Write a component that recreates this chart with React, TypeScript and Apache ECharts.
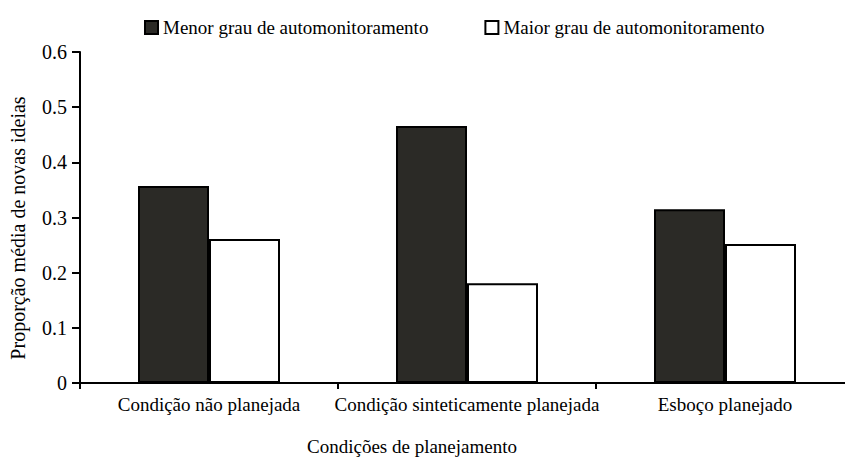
import React, { useEffect, useRef } from "react";
import * as echarts from "echarts";

const categories = [
  "Condição não planejada",
  "Condição sinteticamente planejada",
  "Esboço planejado",
];
const seriesNames = ["Menor grau de automonitoramento", "Maior grau de automonitoramento"];
const menorValues = [0.357, 0.466, 0.315];
const maiorValues = [0.261, 0.181, 0.252];
const yTicks = [0, 0.1, 0.2, 0.3, 0.4, 0.5, 0.6];
const xAxisTitle = "Condições de planejamento";
const yAxisTitle = "Proporção média de novas ideias";

const FONT = "Liberation Serif";

export default function App() {
  const ref = useRef<HTMLDivElement>(null);
  useEffect(() => {
    if (!ref.current) return;
    const chart = echarts.init(ref.current, undefined, { renderer: "svg" });
    chart.setOption({
      animation: false,
      backgroundColor: "#ffffff",
      textStyle: { fontFamily: FONT, color: "#000" },
      legend: {
        left: 139,
        top: 13,
        icon: "rect",
        itemWidth: 13,
        itemHeight: 13,
        itemGap: 56,
        textStyle: { fontFamily: FONT, fontSize: 19, color: "#000" },
        data: seriesNames,
      },
      grid: { left: 80, width: 774, top: 52, bottom: 74, containLabel: false, outerBoundsMode: "none" },
      xAxis: {
        type: "category",
        data: categories,
        axisLine: { lineStyle: { color: "#000", width: 2 } },
        axisTick: { show: true, length: 6, lineStyle: { color: "#000", width: 2 } },
        axisLabel: {
          fontFamily: FONT,
          fontSize: 19,
          color: "#000",
          margin: 12,
          interval: 0,
          hideOverlap: false,
        },
      },
      yAxis: {
        type: "value",
        min: 0,
        max: yTicks[yTicks.length - 1],
        interval: 0.1,
        splitLine: { show: false },
        axisLine: { show: true, lineStyle: { color: "#000", width: 2 } },
        axisTick: { show: true, length: 8, lineStyle: { color: "#000", width: 2 } },
        axisLabel: {
          fontFamily: FONT,
          fontSize: 20,
          color: "#000",
          margin: 13,
          formatter: (v: number) => (v === 0 ? "0" : v.toFixed(1)),
        },
      },
      series: [
        {
          name: seriesNames[0],
          type: "bar",
          data: menorValues,
          barWidth: 71,
          barGap: "0%",
          itemStyle: { color: "#2b2a26", borderColor: "#000", borderWidth: 2 },
        },
        {
          name: seriesNames[1],
          type: "bar",
          data: maiorValues,
          barWidth: 71,
          barGap: "0%",
          itemStyle: { color: "#ffffff", borderColor: "#000", borderWidth: 2 },
        },
      ],
      graphic: [
        {
          type: "text",
          x: 412,
          y: 446,
          style: {
            text: xAxisTitle,
            fontFamily: FONT,
            fontSize: 19,
            fill: "#000",
            textAlign: "center",
            textVerticalAlign: "middle",
          },
        },
        {
          type: "text",
          x: 18,
          y: 228,
          rotation: Math.PI / 2,
          style: {
            text: yAxisTitle,
            fontFamily: FONT,
            fontSize: 20,
            fill: "#000",
            textAlign: "center",
            textVerticalAlign: "middle",
          },
        },
      ],
    });
    return () => chart.dispose();
  }, []);
  return <div ref={ref} style={{ width: 845, height: 457, position: "absolute", left: 0, top: 0 }} />;
}
